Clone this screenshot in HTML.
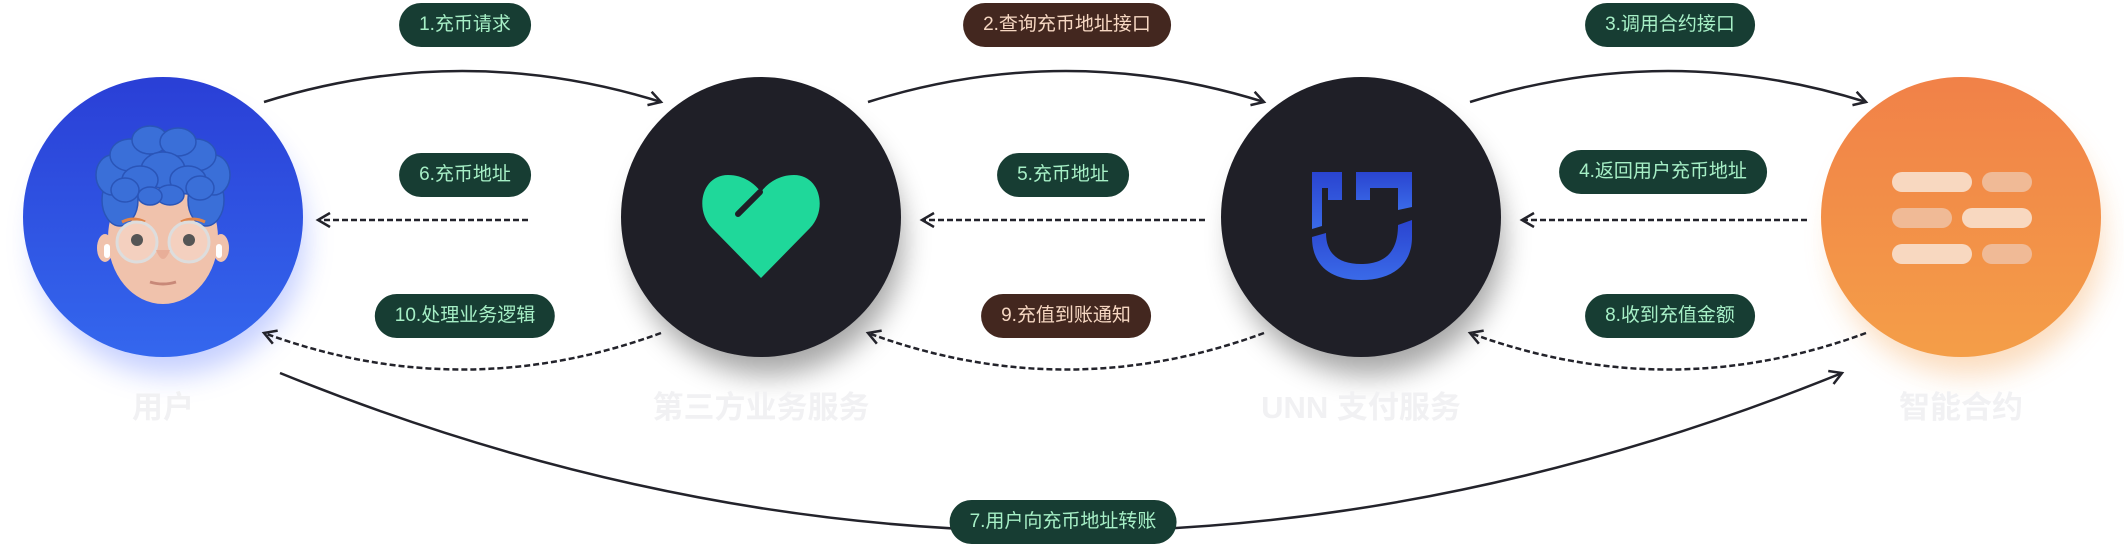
<!DOCTYPE html>
<html><head><meta charset="utf-8"><style>
html,body{margin:0;padding:0;background:#fff;}
body{width:2124px;height:546px;overflow:hidden;position:relative;font-family:"Liberation Sans","Noto Sans CJK SC",sans-serif;}
.pill{position:absolute;height:44px;line-height:44px;border-radius:22px;background:#173d33;color:#a6efc6;font-size:19px;text-align:center;transform:translateX(-50%);padding:0 20px;white-space:nowrap;}
.br{background:#43271f;color:#f6d7c2;}
.lbl{position:absolute;top:382px;transform:translateX(-50%);font-size:31px;font-weight:bold;color:#f1f1f3;white-space:nowrap;}
</style></head><body>
<svg width="2124" height="546" style="position:absolute;left:0;top:0">
<defs>
<linearGradient id="gu" x1="0" y1="0" x2="0" y2="1"><stop offset="0" stop-color="#2a3fd6"/><stop offset="1" stop-color="#3467ee"/></linearGradient>
<linearGradient id="go" x1="0" y1="0" x2="0" y2="1"><stop offset="0" stop-color="#f18148"/><stop offset="1" stop-color="#f49e48"/></linearGradient>
<linearGradient id="gb" x1="0" y1="0" x2="0" y2="1"><stop offset="0" stop-color="#2a44d0"/><stop offset="1" stop-color="#3a6ae8"/></linearGradient>
<filter id="sh" x="-50%" y="-50%" width="200%" height="200%"><feGaussianBlur stdDeviation="14"/></filter>
<marker id="ah" markerWidth="20" markerHeight="20" refX="14" refY="8" orient="auto" markerUnits="userSpaceOnUse"><path d="M2,1 L14,8 L2,15" fill="none" stroke="#23232b" stroke-width="2.5"/></marker>
</defs>
<!-- shadows -->
<circle cx="170" cy="240" r="135" fill="#5b78ff" opacity="0.35" filter="url(#sh)"/>
<circle cx="768" cy="240" r="135" fill="#000" opacity="0.35" filter="url(#sh)"/>
<circle cx="1368" cy="240" r="135" fill="#000" opacity="0.35" filter="url(#sh)"/>
<circle cx="1968" cy="240" r="135" fill="#f49e48" opacity="0.35" filter="url(#sh)"/>
<!-- circles -->
<circle cx="163" cy="217" r="140" fill="url(#gu)"/>
<circle cx="761" cy="217" r="140" fill="#1f1f27"/>
<circle cx="1361" cy="217" r="140" fill="#1f1f27"/>
<circle cx="1961" cy="217" r="140" fill="url(#go)"/>
<!-- avatar -->
<g>
<ellipse cx="163" cy="238" rx="55" ry="66" fill="#f0c2ac"/>
<ellipse cx="105" cy="248" rx="8" ry="14" fill="#f0c2ac"/><ellipse cx="221" cy="248" rx="8" ry="14" fill="#f0c2ac"/>
<rect x="104" y="244" width="6" height="14" rx="3" fill="#fff"/><rect x="216" y="244" width="6" height="14" rx="3" fill="#fff"/>
<g fill="#3a6fd8" stroke="#2a55b8" stroke-width="1.5">
<ellipse cx="120" cy="200" rx="18" ry="26"/><ellipse cx="206" cy="200" rx="18" ry="26"/>
<ellipse cx="112" cy="175" rx="16" ry="20"/><ellipse cx="214" cy="175" rx="16" ry="20"/>
<ellipse cx="130" cy="155" rx="20" ry="16"/><ellipse cx="196" cy="155" rx="20" ry="16"/>
<ellipse cx="150" cy="140" rx="18" ry="14"/><ellipse cx="178" cy="142" rx="18" ry="14"/>
<ellipse cx="163" cy="170" rx="22" ry="18"/><ellipse cx="140" cy="180" rx="18" ry="14"/><ellipse cx="188" cy="180" rx="18" ry="14"/>
<ellipse cx="125" cy="190" rx="14" ry="12"/><ellipse cx="200" cy="188" rx="14" ry="12"/>
<ellipse cx="170" cy="195" rx="14" ry="10"/><ellipse cx="150" cy="196" rx="12" ry="9"/>
</g>
<path d="M122,222 Q133,216 145,222 M181,222 Q193,216 205,222" stroke="#e0844a" stroke-width="3" fill="none"/>
<circle cx="137" cy="242" r="20" fill="#fbe6dd" fill-opacity="0.4" stroke="#ddd" stroke-width="3"/>
<circle cx="189" cy="242" r="20" fill="#fbe6dd" fill-opacity="0.4" stroke="#ddd" stroke-width="3"/>
<circle cx="137" cy="240" r="6" fill="#555"/><circle cx="189" cy="240" r="6" fill="#555"/>
<path d="M156,250 Q163,268 170,250" fill="#e8ae98"/>
<path d="M150,282 Q163,286 176,282" stroke="#c88878" stroke-width="3" fill="none"/>
</g>
<!-- heart -->
<path d="M761,278 L712,228 C694,209 702,175 728,175 C744,175 755,184 761,192 C767,184 778,175 794,175 C820,175 828,209 810,228 Z" fill="#1fd89a"/>
<path d="M738,214 L760,192" stroke="#1f1f27" stroke-width="6" stroke-linecap="round"/>
<!-- UNN logo -->
<g fill="url(#gb)">
<path d="M1312,172 L1342,172 L1342,200 L1328,200 L1328,188 L1322,188 L1322,226 L1312,229 Z"/>
<path d="M1356,172 L1412,172 L1412,207 L1398,210 L1398,188 L1370,188 L1370,200 L1356,200 Z"/>
<path d="M1312,237 L1326,233 C1326,255 1340,264 1361,264 C1382,264 1398,255 1398,225 L1412,220 L1412,237 C1412,265 1392,280 1361,280 C1330,280 1312,265 1312,237 Z"/>
</g>
<!-- contract icon -->
<g>
<rect x="1892" y="172" width="80" height="20" rx="10" fill="#f8d8c0"/><rect x="1982" y="172" width="50" height="20" rx="10" fill="#f0ba96"/>
<rect x="1892" y="208" width="60" height="20" rx="10" fill="#f0ba96"/><rect x="1962" y="208" width="70" height="20" rx="10" fill="#f8d8c0"/>
<rect x="1892" y="244" width="80" height="20" rx="10" fill="#f8d8c0"/><rect x="1982" y="244" width="50" height="20" rx="10" fill="#f0ba96"/>
</g>
<!-- connectors -->
<g fill="none" stroke="#23232b" stroke-width="2.5">
<path d="M264,102 Q462,40 661,102" marker-end="url(#ah)"/>
<path d="M868,102 Q1066,40 1264,102" marker-end="url(#ah)"/>
<path d="M1470,102 Q1668,40 1866,102" marker-end="url(#ah)"/>
<path d="M528,220 L318,220" stroke-dasharray="6,3" marker-end="url(#ah)"/>
<path d="M1205,220 L922,220" stroke-dasharray="6,3" marker-end="url(#ah)"/>
<path d="M1807,220 L1522,220" stroke-dasharray="6,3" marker-end="url(#ah)"/>
<path d="M661,333 Q462,406 264,333" stroke-dasharray="6,3" marker-end="url(#ah)"/>
<path d="M1264,333 Q1066,406 868,333" stroke-dasharray="6,3" marker-end="url(#ah)"/>
<path d="M1866,333 Q1668,406 1470,333" stroke-dasharray="6,3" marker-end="url(#ah)"/>
<path d="M280,373 Q1061,690 1842,373" marker-end="url(#ah)"/>
</g>
</svg>
<div class="pill" style="left:465px;top:3px">1.充币请求</div>
<div class="pill br" style="left:1067px;top:3px">2.查询充币地址接口</div>
<div class="pill" style="left:1670px;top:3px">3.调用合约接口</div>
<div class="pill" style="left:465px;top:153px">6.充币地址</div>
<div class="pill" style="left:1063px;top:153px">5.充币地址</div>
<div class="pill" style="left:1663px;top:150px">4.返回用户充币地址</div>
<div class="pill" style="left:465px;top:294px">10.处理业务逻辑</div>
<div class="pill br" style="left:1066px;top:294px">9.充值到账通知</div>
<div class="pill" style="left:1670px;top:294px">8.收到充值金额</div>
<div class="pill" style="left:1063px;top:500px">7.用户向充币地址转账</div>
<div class="lbl" style="left:163px">用户</div>
<div class="lbl" style="left:761px">第三方业务服务</div>
<div class="lbl" style="left:1361px">UNN 支付服务</div>
<div class="lbl" style="left:1961px">智能合约</div>
</body></html>
